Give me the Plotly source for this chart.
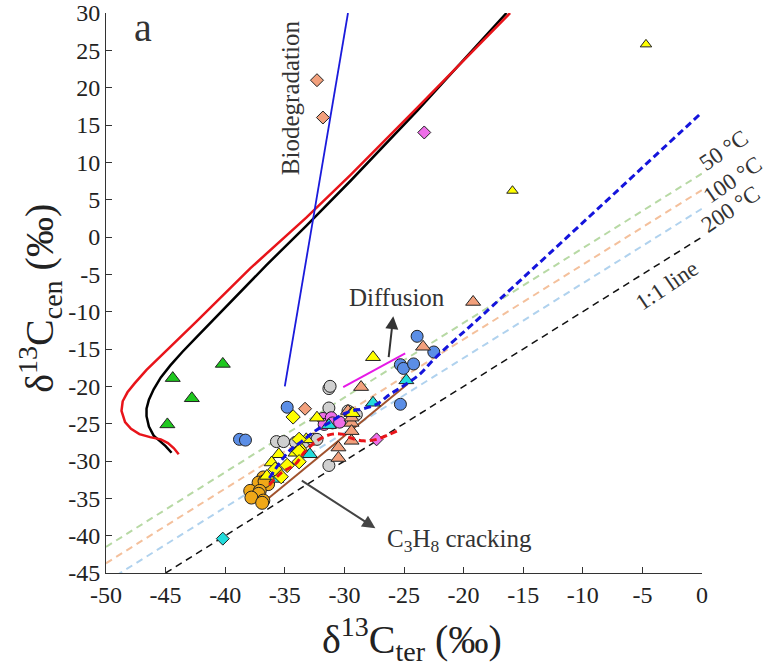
import plotly.graph_objects as go

# ---------------- data ----------------
# model curves
black_x = [-44.5, -45.0, -45.5, -46.0, -46.4, -46.6, -46.6, -46.4, -46.0, -45.4, -44.6, -43.6, -42.4, -41.0, -36.5, -33.2, -29.5, -23.9, -16.4]
black_y = [-28.9, -28.0, -27.3, -26.6, -25.4, -24.0, -23.0, -21.8, -20.4, -18.8, -17.2, -15.4, -13.4, -11.1, -3.7, 1.5, 7.5, 16.9, 30.0]
red_x = [-43.9, -44.3, -44.8, -45.4, -46.3, -47.2, -47.9, -48.4, -48.7, -48.6, -48.2, -47.6, -46.6, -45.3, -44.0, -42.4, -37.9, -33.2, -29.5, -23.9, -16.1]
red_y = [-29.1, -28.3, -27.6, -27.1, -26.8, -26.4, -25.7, -24.8, -23.3, -22.0, -20.8, -19.6, -17.8, -15.8, -13.9, -11.3, -4.2, 2.6, 8.3, 17.3, 30.0]
bio_x = [-35.0, -29.7]
bio_y = [-20.0, 30.0]
bdash_x = [-36.3, -35.4, -34.6, -33.6, -32.3, -31.2, -30.2, -29.4, -28.4, -27.3, -26.2, -25.1, -23.7, -22.5, -20.9, -19.2, 0.0]
bdash_y = [-32.3, -30.2, -28.6, -27.4, -25.8, -24.8, -23.8, -23.3, -23.0, -22.4, -21.1, -20.0, -18.4, -16.4, -14.0, -11.6, 16.7]
rdash_x = [-36.3, -35.3, -34.1, -33.4, -32.7, -31.9, -31.0, -30.2, -29.5, -28.4, -27.3, -26.2, -25.3]
rdash_y = [-33.2, -31.6, -30.4, -28.9, -27.8, -26.9, -26.4, -26.4, -26.9, -27.3, -27.1, -26.4, -25.8]
crack_x = [-36.6, -24.7]
crack_y = [-35.3, -19.7]
diff_x = [-30.1, -24.9]
diff_y = [-20.1, -15.6]
ref_x = [-50.0, 0.0]
offsets = {"50 °C": 8.5, "100 °C": 6.3, "200 °C": 3.8}
one_x = [-45.0, 0.0]
one_y = [-45.0, 0.0]

# samples
green_tri_x = [-44.4, -42.8, -44.85, -40.2]
green_tri_y = [-18.9, -21.6, -25.1, -17.0]
yel_tri_x = [-27.6, -35.5, -36.1, -34.1, -33.2, -32.3, -36.5, -33.7, -29.3]
yel_tri_y = [-16.1, -29.1, -30.2, -28.9, -27.1, -24.2, -32.0, -28.2, -23.6]
yel_tri_small_x = [-4.7, -15.9]
yel_tri_small_y = [25.8, 6.2]
yel_dia_x = [-34.3, -33.8, -33.8, -33.8, -34.8, -35.8, -35.3]
yel_dia_y = [-24.1, -27.1, -28.7, -30.1, -30.6, -31.1, -32.1]
gray_x = [-31.3, -31.2, -31.3, -29.7, -29.0, -35.7, -35.1, -34.1, -33.4, -32.7, -32.3, -31.3]
gray_y = [-20.3, -20.0, -22.9, -23.3, -23.8, -27.4, -27.4, -27.5, -27.5, -27.1, -27.1, -30.6]
blue_x = [-38.8, -38.3, -34.8, -25.3, -25.3, -25.05, -24.2, -23.9, -22.5]
blue_y = [-27.1, -27.2, -22.8, -22.4, -17.1, -17.6, -17.0, -13.3, -15.4]
orange_x = [-36.8, -36.4, -37.2, -36.7, -37.9, -37.1, -37.2, -37.8, -36.8, -36.9]
orange_y = [-32.2, -33.1, -32.9, -32.7, -34.0, -34.0, -34.4, -34.9, -35.3, -35.6]
salmon_tri_x = [-19.2, -23.4, -28.6, -29.7, -29.4, -29.4, -29.4, -29.4, -29.4, -30.5, -30.5]
salmon_tri_y = [-8.7, -14.7, -20.1, -23.3, -23.6, -24.9, -26.0, -24.2, -27.3, -28.2, -29.6]
salmon_dia_x = [-32.3, -31.8, -33.3]
salmon_dia_y = [21.0, 16.0, -23.0]
pink_dia_x = [-23.3, -27.3]
pink_dia_y = [14.0, -27.1]
pink_x = [-31.8, -31.7, -31.1, -31.0, -30.4]
pink_y = [-24.3, -25.1, -24.2, -24.9, -24.8]
cyan_tri_x = [-27.6, -24.8, -32.9, -35.7, -31.3]
cyan_tri_y = [-22.2, -19.2, -29.1, -32.4, -25.2]
cyan_dia_x = [-40.2]
cyan_dia_y = [-40.4]

x_ticks = [-50, -45, -40, -35, -30, -25, -20, -15, -10, -5, 0]
y_ticks = [-45, -40, -35, -30, -25, -20, -15, -10, -5, 0, 5, 10, 15, 20, 25, 30]
x_title = "δ<sup>13</sup>C<sub>ter</sub> (‰)"
y_title = "δ<sup>13</sup>C<sub>cen</sub> (‰)"

# ---------------- figure ----------------
FONT = "Liberation Serif"
fig = go.Figure()

ref_colors = {"50 °C": "#b7d9a4", "100 °C": "#f4c09c", "200 °C": "#b0d2ee"}
for name, off in offsets.items():
    fig.add_trace(go.Scatter(x=ref_x, y=[v + off for v in ref_x], mode="lines",
                             line=dict(color=ref_colors[name], width=2, dash="7px,5px"),
                             hoverinfo="skip"))
fig.add_trace(go.Scatter(x=one_x, y=one_y, mode="lines",
                         line=dict(color="#111111", width=1.5, dash="7px,5px")))

fig.add_trace(go.Scatter(x=black_x, y=black_y, mode="lines", line=dict(color="black", width=2.5)))
fig.add_trace(go.Scatter(x=red_x, y=red_y, mode="lines", line=dict(color="#e8141a", width=2.5)))
fig.add_trace(go.Scatter(x=bio_x, y=bio_y, mode="lines", line=dict(color="#1a1adc", width=1.8)))
fig.add_trace(go.Scatter(x=crack_x, y=crack_y, mode="lines", line=dict(color="#a0522d", width=2)))
fig.add_trace(go.Scatter(x=diff_x, y=diff_y, mode="lines", line=dict(color="#e619e6", width=2)))


def pts(x, y, symbol, color, size):
    fig.add_trace(go.Scatter(x=x, y=y, mode="markers",
                             marker=dict(symbol=symbol, color=color, size=size,
                                         line=dict(color="#222222", width=1))))


pts(gray_x, gray_y, "circle", "#d0d0d0", 12)
pts(blue_x, blue_y, "circle", "#5b8ee6", 12)
pts(orange_x, orange_y, "circle", "#f0a818", 13)
pts(pink_x, pink_y, "circle", "#ee6ee8", 12)
pts(salmon_tri_x, salmon_tri_y, "triangle-up", "#f2a07c", 13)
pts(cyan_tri_x, cyan_tri_y, "triangle-up", "#22dcdc", 13)
pts(yel_tri_x, yel_tri_y, "triangle-up", "#ffff00", 13)
pts(yel_dia_x, yel_dia_y, "diamond", "#ffff00", 11)
pts(green_tri_x, green_tri_y, "triangle-up", "#1ec81e", 13)
pts(yel_tri_small_x, yel_tri_small_y, "triangle-up", "#ffff00", 10)
pts(salmon_dia_x, salmon_dia_y, "diamond", "#f2a07c", 10)
pts(pink_dia_x, pink_dia_y, "diamond", "#ee6ee8", 10)
pts(cyan_dia_x, cyan_dia_y, "diamond", "#22dcdc", 10)

fig.add_trace(go.Scatter(x=bdash_x, y=bdash_y, mode="lines",
                         line=dict(color="#1414dc", width=3, dash="7px,4px", shape="spline")))
fig.add_trace(go.Scatter(x=rdash_x, y=rdash_y, mode="lines",
                         line=dict(color="#e8141a", width=3, dash="7px,4px", shape="spline")))

ann = []
txt = dict(family=FONT, color="#333333", size=25)
ann.append(dict(x=-46.9, y=28, xref="x", yref="y", text="a", showarrow=False,
                font=dict(family=FONT, color="#333333", size=40)))
ann.append(dict(x=-34.5, y=18.7, xref="x", yref="y", text="Biodegradation", showarrow=False,
                textangle=-90, font=txt))
ann.append(dict(x=-25.6, y=-8.1, xref="x", yref="y", text="Diffusion", showarrow=False, font=txt))
ann.append(dict(x=-26.6, y=-40.7, xref="x", yref="y", text="C<sub>3</sub>H<sub>8</sub> cracking",
                showarrow=False, xanchor="left", font=txt))
ann.append(dict(x=-25.9, y=-10.6, ax=-26.3, ay=-16.3, xref="x", yref="y", axref="x", ayref="y",
                text="", showarrow=True, arrowhead=2, arrowsize=1.3, arrowwidth=2, arrowcolor="#333333"))
ann.append(dict(x=-27.4, y=-39.0, ax=-33.7, ay=-32.5, xref="x", yref="y", axref="x", ayref="y",
                text="", showarrow=True, arrowhead=2, arrowsize=1.3, arrowwidth=2, arrowcolor="#444444"))
for label, px, py in [("50 °C", 1.036, 0.755), ("100 °C", 1.052, 0.703), ("200 °C", 1.047, 0.650),
                      ("1:1 line", 0.941, 0.514)]:
    ann.append(dict(x=px, y=py, xref="paper", yref="paper", text=label, showarrow=False,
                    xanchor="center", yanchor="middle",
                    textangle=-34, font=dict(family=FONT, color="#333333", size=23)))
# axis titles
ann.append(dict(x=0.513, y=-0.066, xref="paper", yref="paper", text=x_title, showarrow=False,
                xanchor="center", yanchor="top", borderpad=0,
                font=dict(family=FONT, size=40, color="#222222")))
ann.append(dict(x=-0.112, y=0.49, xref="paper", yref="paper", text=y_title, showarrow=False,
                xanchor="center", yanchor="middle", textangle=-90,
                font=dict(family=FONT, size=40, color="#222222")))

axis_common = dict(showgrid=False, zeroline=False, showline=True, linecolor="#333333", linewidth=1,
                   ticks="inside", ticklen=6, tickcolor="#333333", ticklabeloverflow="allow",
                   automargin=False,
                   tickfont=dict(family=FONT, size=24, color="#222222"))

fig.update_layout(
    width=766, height=667,
    margin=dict(l=106, r=64, t=13, b=94),
    plot_bgcolor="white", paper_bgcolor="white",
    showlegend=False,
    annotations=ann,
    xaxis=dict(range=[-50, 0], tickvals=x_ticks, ticktext=[str(v) for v in x_ticks], **axis_common),
    yaxis=dict(range=[-45, 30], tickvals=y_ticks, ticktext=[str(v) for v in y_ticks], **axis_common),
)

fig.write_html("out.html")
